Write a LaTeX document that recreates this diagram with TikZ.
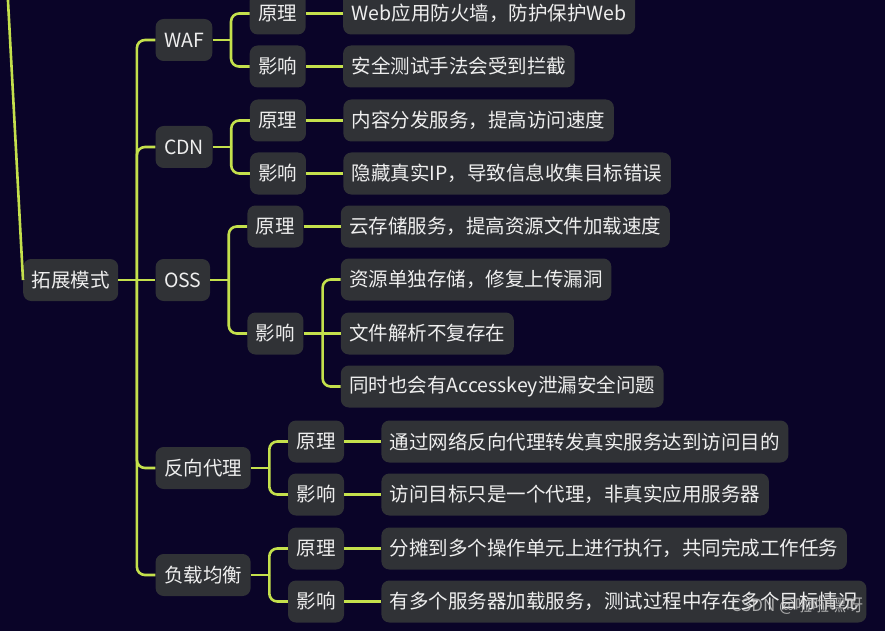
\documentclass[tikz,border=0pt]{standalone}
\usepackage{fontspec}
\setmainfont{Noto Sans CJK SC}
\usepackage{tikz}
\usetikzlibrary{
  positioning,
  calc
}
\definecolor{mmBg}{HTML}{0A0428}
\definecolor{mmBox}{HTML}{303236}
\definecolor{mmLine}{HTML}{C4E04C}
\definecolor{mmText}{HTML}{EEEEEE}
\definecolor{mmMark}{HTML}{C8C8C8}
\tikzset{
  mmnode/.style={
    rounded corners=8pt, fill=mmBox, text=mmText, anchor=west,
    minimum height=42pt, inner xsep=8.5pt, inner ysep=0pt,
    font=\fontsize{19.5}{22}\selectfont
  },
  topic/.style={mmnode},
  sub/.style={mmnode},
  leaf/.style={mmnode},
  link/.style={draw=mmLine, line width=2.6pt, rounded corners=8pt},
  wmtext/.style={text=mmMark, text opacity=0.8, font=\fontsize{17}{20}\selectfont}
}

\begin{document}
\begin{tikzpicture}[x=1pt, y=-1pt, node distance=37pt]
  \useasboundingbox (0,0) rectangle (885,631);
  \fill[mmBg] (0,0) rectangle (885,631);
  \clip (0,0) rectangle (885,631);

  \node[mmnode] (root) at (23,280) {拓展模式};

  \node[topic, right=of root, yshift=240pt] (waf) {WAF};
  \node[topic, right=of root, yshift=133pt] (cdn) {CDN};
  \node[topic, right=of root] (oss) {OSS};
  \node[topic, right=of root, yshift=-188pt] (rp) {反向代理};
  \node[topic, right=of root, yshift=-295pt] (lb) {负载均衡};

  \node[sub, right=of waf, yshift=26.5pt] (wafp) {原理};
  \node[sub, right=of waf, yshift=-26.5pt] (wafi) {影响};
  \node[sub, right=of cdn, yshift=26.5pt] (cdnp) {原理};
  \node[sub, right=of cdn, yshift=-26.5pt] (cdni) {影响};
  \node[sub, right=of oss, yshift=53.5pt] (ossp) {原理};
  \node[sub, right=of oss, yshift=-53.5pt] (ossi) {影响};
  \node[sub, right=of rp, yshift=26.5pt] (rpp) {原理};
  \node[sub, right=of rp, yshift=-26.5pt] (rpi) {影响};
  \node[sub, right=of lb, yshift=26.5pt] (lbp) {原理};
  \node[sub, right=of lb, yshift=-26.5pt] (lbi) {影响};

  \node[leaf, right=of wafp] (wafpt) {Web应用防火墙，防护保护Web};
  \node[leaf, right=of wafi] (wafit) {安全测试手法会受到拦截};
  \node[leaf, right=of cdnp] (cdnpt) {内容分发服务，提高访问速度};
  \node[leaf, right=of cdni] (cdnit) {隐藏真实IP，导致信息收集目标错误};
  \node[leaf, right=of ossp] (osspt) {云存储服务，提高资源文件加载速度};
  \node[leaf, right=of ossi, yshift=54pt] (ossi1) {资源单独存储，修复上传漏洞};
  \node[leaf, right=of ossi] (ossi2) {文件解析不复存在};
  \node[leaf, right=of ossi, yshift=-53pt] (ossi3) {同时也会有Accesskey泄漏安全问题};
  \node[leaf, right=of rpp] (rppt) {通过网络反向代理转发真实服务达到访问目的};
  \node[leaf, right=of rpi] (rpit) {访问目标只是一个代理，非真实应用服务器};
  \node[leaf, right=of lbp] (lbpt) {分摊到多个操作单元上进行执行，共同完成工作任务};
  \node[leaf, right=of lbi] (lbit) {有多个服务器加载服务，测试过程中存在多个目标情况};

  \coordinate (up) at (7.3,-12);
  \draw[link] (up) -- (root.west);

  \coordinate (froot) at ($(root.east)!0.5!(oss.west)$);
  \draw[link] (root.east) -- (oss.west);
  \foreach \n in {waf,cdn,rp,lb}
    \draw[link] (froot) |- (\n.west);

  \foreach \p in {waf,cdn,oss,rp,lb} {
    \coordinate (f\p) at ([xshift=18.5pt]\p.east);
    \draw[link] (\p.east) -- (f\p);
    \draw[link] (f\p) |- (\p p.west);
    \draw[link] (f\p) |- (\p i.west);
    \draw[link] (\p p.east) -- (\p pt.west);
  }
  \foreach \p in {waf,cdn,rp,lb}
    \draw[link] (\p i.east) -- (\p it.west);

  \coordinate (fossi) at ([xshift=19pt]ossi.east);
  \draw[link] (ossi.east) -- (ossi2.west);
  \draw[link] (fossi) |- (ossi1.west);
  \draw[link] (fossi) |- (ossi3.west);

  \node[wmtext] (wm) at (797,606) {CSDN @啦啦嘿呀};
\end{tikzpicture}
\end{document}
